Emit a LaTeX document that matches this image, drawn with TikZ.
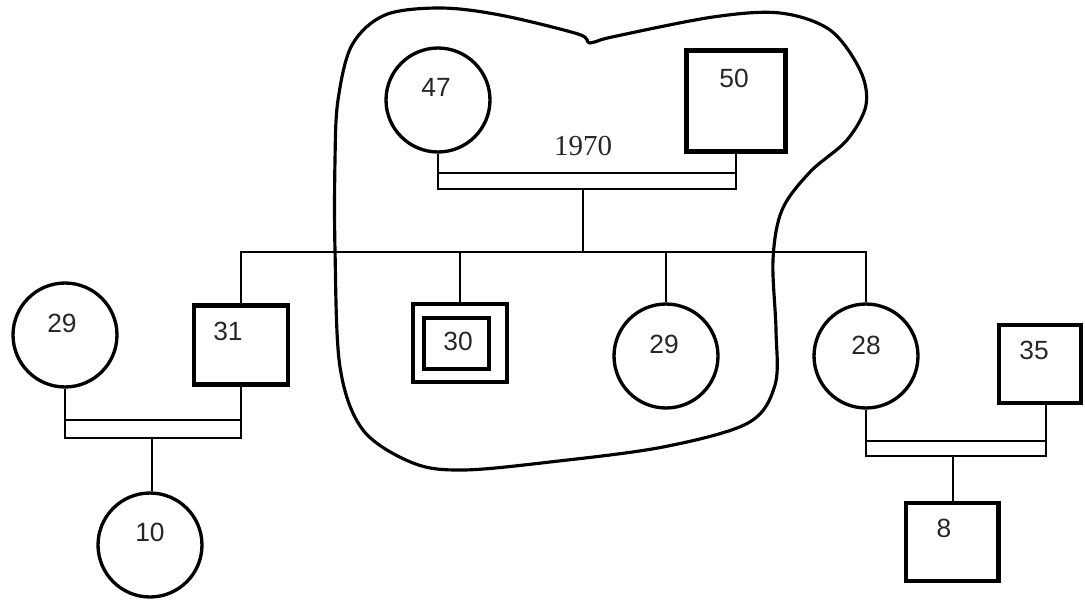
\documentclass[tikz,border=0pt]{standalone}
\usepackage{fontspec}
\setmainfont{Liberation Sans}
\newfontfamily\yrfont{Liberation Serif}
\usetikzlibrary{positioning,calc}
\tikzset{
  pf/.style={draw, circle, line width=1.9pt, minimum size=2.08cm, inner sep=0pt},
  pm/.style={draw, rectangle, line width=2.3pt, inner sep=0pt},
  lbl/.style={inner sep=0pt, font=\fontsize{15}{18}\selectfont, text=black!85},
  ln/.style={draw=black, line width=0.9pt},
  blob/.style={draw=black, line width=1.8pt},
}
\begin{document}
\begin{tikzpicture}[x=0.02cm, y=-0.02cm]
  \useasboundingbox (0,0) rectangle (1085,602);
  % grandparents
  \node[pf] (f47) at (438,100) {};
  \node[pm, minimum width=1.98cm, minimum height=2.02cm] (m50) at (736,101) {};
  \node[lbl] (l47) at (436,87) {47};
  \node[lbl] (l50) at (734,78) {50};
  \node[font=\yrfont\fontsize{16.5}{19}\selectfont, text=black!85] (yr) at (583,146) {1970};
  % children
  \node[pm, minimum width=1.88cm, minimum height=1.58cm] (m31) at (241,345) {};
  \node[pm, minimum width=1.88cm, minimum height=1.56cm] (m30) at (460,343) {};
  \node[pm, minimum width=1.3cm, minimum height=1.02cm] (m30in) at (456.5,343.5) {};
  \node[pf] (f29b) at (666,356) {};
  \node[pf] (f28) at (866,356) {};
  \node[lbl] (l31) at (228,331) {31};
  \node[lbl] (l30) at (458,341) {30};
  \node[lbl] (l29b) at (664,344) {29};
  \node[lbl] (l28) at (866,345) {28};
  % spouses and grandchildren
  \node[pf] (f29a) at (65,335) {};
  \node[pf] (f10) at (150,545) {};
  \node[pm, minimum width=1.64cm, minimum height=1.56cm] (m35) at (1040,364) {};
  \node[pm, minimum width=1.86cm, minimum height=1.56cm] (m8) at (952,542) {};
  \node[lbl] (l29a) at (62,323) {29};
  \node[lbl] (l10) at (150,532) {10};
  \node[lbl] (l35) at (1034,350) {35};
  \node[lbl] (l8) at (944,528) {8};

  % marriages
  \coordinate (mar1) at (583,189);
  \coordinate (sib) at (583,252);
  \draw[ln] (f47.south) -- (f47.south |- 0,189) -- (m50.south |- 0,189) -- (m50.south);
  \draw[ln] (f47.south |- 0,173) -- (m50.south |- 0,173);
  \draw[ln] (mar1) -- (sib);
  \draw[ln] (m31.north) -- (m31.north |- sib) -- (f28.north |- sib) -- (f28.north);
  \draw[ln] (m30.north) -- (m30.north |- sib);
  \draw[ln] (f29b.north) -- (f29b.north |- sib);

  \coordinate (mar2) at (152,438);
  \draw[ln] (f29a.south) -- (f29a.south |- 0,438) -- (m31.south |- 0,438) -- (m31.south);
  \draw[ln] (f29a.south |- 0,420) -- (m31.south |- 0,420);
  \draw[ln] (mar2) -- (mar2 |- f10.north);

  \coordinate (mar3) at (953,456);
  \draw[ln] (f28.south) -- (f28.south |- 0,456) -- (1046,456) -- (1046,0 |- m35.south);
  \draw[ln] (f28.south |- 0,441) -- (1046,441);
  \draw[ln] (mar3) -- (mar3 |- m8.north);

  % household outline
  \draw[blob] plot[smooth cycle, tension=0.55] coordinates {
    (338,100) (352,45) (385,15) (440,8) (500,15) (578,34) (590,43) (612,37) (713,17)
    (780,13) (830,30) (860,70) (866,105) (847,140) (810,172) (782,210) (773,260)
    (776,330) (775,385) (748,423) (663,447) (550,462) (463,470) (413,463)
    (363,430) (340,367) (335,250) (335,160)};
\end{tikzpicture}
\end{document}
